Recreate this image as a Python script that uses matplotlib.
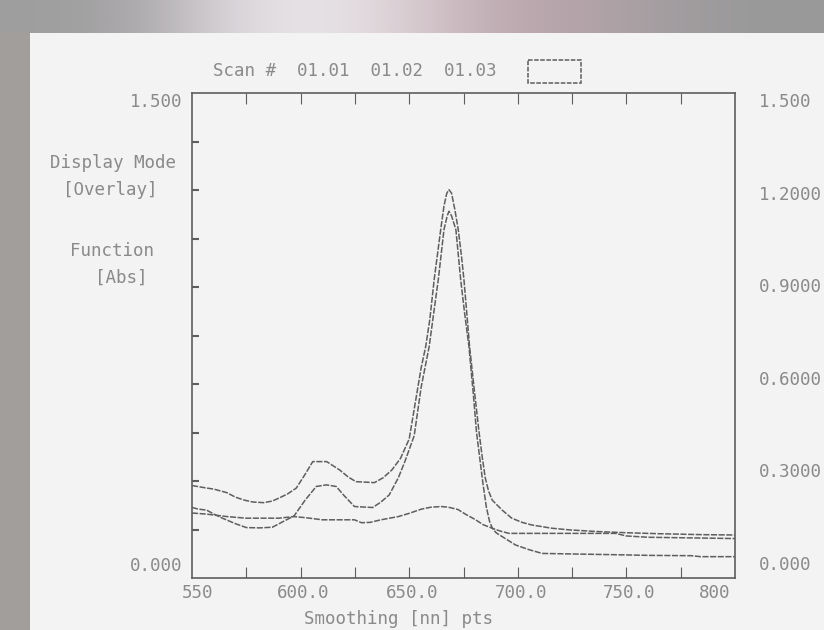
import matplotlib.pyplot as plt
from matplotlib.patches import Rectangle
import numpy as np

wl_a = [550, 556, 560, 566, 570, 574, 578, 583, 587, 590, 594, 598, 602, 605.6, 612, 618,
        622, 625.5, 634, 638, 642, 646, 650, 653, 655.5, 657.6, 659.5, 661.5, 663, 664.5,
        666, 667.3, 668.3, 669.5, 671, 672.6, 674, 675.2, 676.5, 677.8, 680, 682, 683.5,
        685, 686.5, 688.2, 692.8, 697.2, 702, 706.4, 715.6, 723.4, 735.6, 750, 765, 785, 800]
abs_a = [0.286, 0.279, 0.275, 0.264, 0.25, 0.241, 0.235, 0.233, 0.238, 0.247, 0.26, 0.278,
         0.32, 0.36, 0.36, 0.334, 0.312, 0.298, 0.295, 0.31, 0.334, 0.37, 0.43, 0.55, 0.65,
         0.716, 0.80, 0.923, 1.0, 1.077, 1.15, 1.19, 1.201, 1.19, 1.14, 1.077, 1.0, 0.923,
         0.82, 0.716, 0.58, 0.46, 0.38, 0.31, 0.27, 0.241, 0.21, 0.185, 0.172, 0.164, 0.154,
         0.149, 0.144, 0.14, 0.137, 0.134, 0.133]

wl_b = [550, 553, 556.7, 560, 564, 570, 575, 581, 587, 591.8, 597, 602, 607.2, 611.8, 616.4,
        620, 624.8, 633.2, 637, 640.8, 645, 648, 652.3, 655.5, 659.2, 661.5, 663.4, 666,
        667.5, 668.3, 669.5, 671.5, 673.7, 675.5, 677.5, 679.5, 681, 682.5, 684, 685.5, 687,
        688.2, 690, 692.8, 699, 705, 711.2, 728, 745, 760, 780, 784, 800]
abs_b = [0.218, 0.213, 0.21, 0.198, 0.185, 0.168, 0.156, 0.155, 0.157, 0.174, 0.192, 0.24,
         0.283, 0.288, 0.283, 0.255, 0.221, 0.218, 0.235, 0.257, 0.31, 0.36, 0.44, 0.59, 0.716,
         0.83, 0.923, 1.077, 1.12, 1.134, 1.12, 1.077, 0.923, 0.82, 0.716, 0.57, 0.45, 0.37,
         0.29, 0.22, 0.175, 0.155, 0.14, 0.128, 0.102, 0.088, 0.076, 0.074, 0.072, 0.07,
         0.069, 0.066, 0.066]

wl_c = [550, 556, 560, 566, 575, 590, 597, 603, 610, 624.8, 628, 632, 637, 645, 650, 655.6,
        660, 664.8, 668, 672.4, 676, 680.6, 684, 688.2, 692, 695.9, 720, 745, 750, 760, 800]
abs_c = [0.201, 0.198, 0.195, 0.19, 0.185, 0.185, 0.19, 0.186, 0.18, 0.18, 0.171, 0.172,
         0.18, 0.19, 0.2, 0.213, 0.219, 0.221, 0.219, 0.212, 0.197, 0.18, 0.165, 0.154, 0.145,
         0.138, 0.138, 0.138, 0.13, 0.126, 0.122]

etiquetas_x = ["550", "600.0", "650.0", "700.0", "750.0", "800"]
valores_x = [550, 600, 650, 700, 750, 800]
etiquetas_der = ["0.000", "0.3000", "0.6000", "0.9000", "1.2000", "1.500"]
valores_der = [0, 0.3, 0.6, 0.9, 1.2, 1.5]

W, H = 824, 630
gris_txt = "#8a8a8a"
gris_lin = "#5e5e5e"
fuente = "DejaVu Sans Mono"
fs = 12.6

fig = plt.figure(figsize=(8.24, 6.3), dpi=100, facecolor="#f3f3f3")

# Fondo de la foto (bordes grises)
bg = fig.add_axes([0, 0, 1, 1], zorder=-5)
bg.set_xlim(0, W)
bg.set_ylim(H, 0)
bg.axis("off")
franja = np.array([[[0.62, 0.62, 0.62], [0.66, 0.65, 0.66], [0.86, 0.84, 0.86],
                    [0.92, 0.91, 0.92], [0.85, 0.80, 0.82], [0.74, 0.66, 0.69],
                    [0.70, 0.64, 0.66], [0.62, 0.61, 0.62], [0.60, 0.60, 0.60]]])
bg.imshow(franja, extent=(0, W, 33, 0), aspect="auto", interpolation="bicubic")
bg.add_patch(Rectangle((0, 33), 30, H - 33, color="#a19e9c", lw=0))
# casilla punteada de la cabecera
bg.add_patch(Rectangle((528, 60), 53, 23, fill=False, ec=gris_lin, lw=1.1, ls=(0, (3, 1))))

ax = fig.add_axes([192 / W, 1 - 578 / H, (735 - 192) / W, (578 - 93) / H])
ax.set_facecolor("none")
ax.set_xlim(550, 800)
ax.set_ylim(0, 1.5)

estilo = dict(color=gris_lin, lw=1.1, ls=(0, (4, 1)))
ax.plot(wl_a, abs_a, **estilo)
ax.plot(wl_b, abs_b, **estilo)
ax.plot(wl_c, abs_c, **estilo)

for sp in ax.spines.values():
    sp.set_linestyle((0, (3, 1)))
    sp.set_color(gris_lin)
    sp.set_linewidth(1.2)

ax.set_xticks(np.arange(575, 800, 25))
ax.set_yticks(np.arange(0.15, 1.45, 0.15))
ax.tick_params(axis="x", direction="in", length=8, top=True, color=gris_lin,
               labelbottom=False)
ax.tick_params(axis="y", direction="in", length=5, right=True, color=gris_lin, width=1.5,
               labelleft=False)

# Etiquetas del eje x
for i, (v, t) in enumerate(zip(valores_x, etiquetas_x)):
    if i == 0:
        ha, dx = "left", -10
    elif i == len(valores_x) - 1:
        ha, dx = "right", -5
    else:
        ha, dx = "center", 3
    ax.annotate(t, xy=(v, 0), xycoords=("data", "axes fraction"), xytext=(dx, -15),
                textcoords="offset pixels", ha=ha, va="center", fontsize=fs,
                family=fuente, color=gris_txt)

# Etiquetas eje izquierdo
ax.annotate("1.500", xy=(0, 1), xycoords="axes fraction", xytext=(-10, 0),
            textcoords="offset pixels", ha="right", va="top", fontsize=fs,
            family=fuente, color=gris_txt)
ax.annotate("0.000", xy=(0, 0), xycoords="axes fraction", xytext=(-10, 3),
            textcoords="offset pixels", ha="right", va="bottom", fontsize=fs,
            family=fuente, color=gris_txt)

# Escala derecha impresa (desplazada respecto a las marcas)
ax2 = ax.twinx()
ax2.set_ylim(-0.049, 1.523)
ax2.set_yticks(valores_der)
ax2.set_yticklabels(etiquetas_der, family=fuente, fontsize=fs, color=gris_txt)
ax2.tick_params(axis="y", length=0, pad=17)
for sp in ax2.spines.values():
    sp.set_visible(False)

# Textos de la cabecera y laterales
fig.text(213 / W, 1 - 71 / H, "Scan #  01.01  01.02  01.03", ha="left", va="center",
         fontsize=fs, family=fuente, color=gris_txt)
fig.text(50 / W, 1 - 163 / H, "Display Mode", ha="left", va="center",
         fontsize=fs, family=fuente, color=gris_txt)
fig.text(63 / W, 1 - 190 / H, "[Overlay]", ha="left", va="center",
         fontsize=fs, family=fuente, color=gris_txt)
fig.text(70 / W, 1 - 251 / H, "Function", ha="left", va="center",
         fontsize=fs, family=fuente, color=gris_txt)
fig.text(95 / W, 1 - 278 / H, "[Abs]", ha="left", va="center",
         fontsize=fs, family=fuente, color=gris_txt)
fig.text(399 / W, 1 - 628 / H, "Smoothing [nn] pts", ha="center", va="bottom",
         fontsize=fs, family=fuente, color=gris_txt)

fig.savefig("out.png", dpi=100, facecolor=fig.get_facecolor())
